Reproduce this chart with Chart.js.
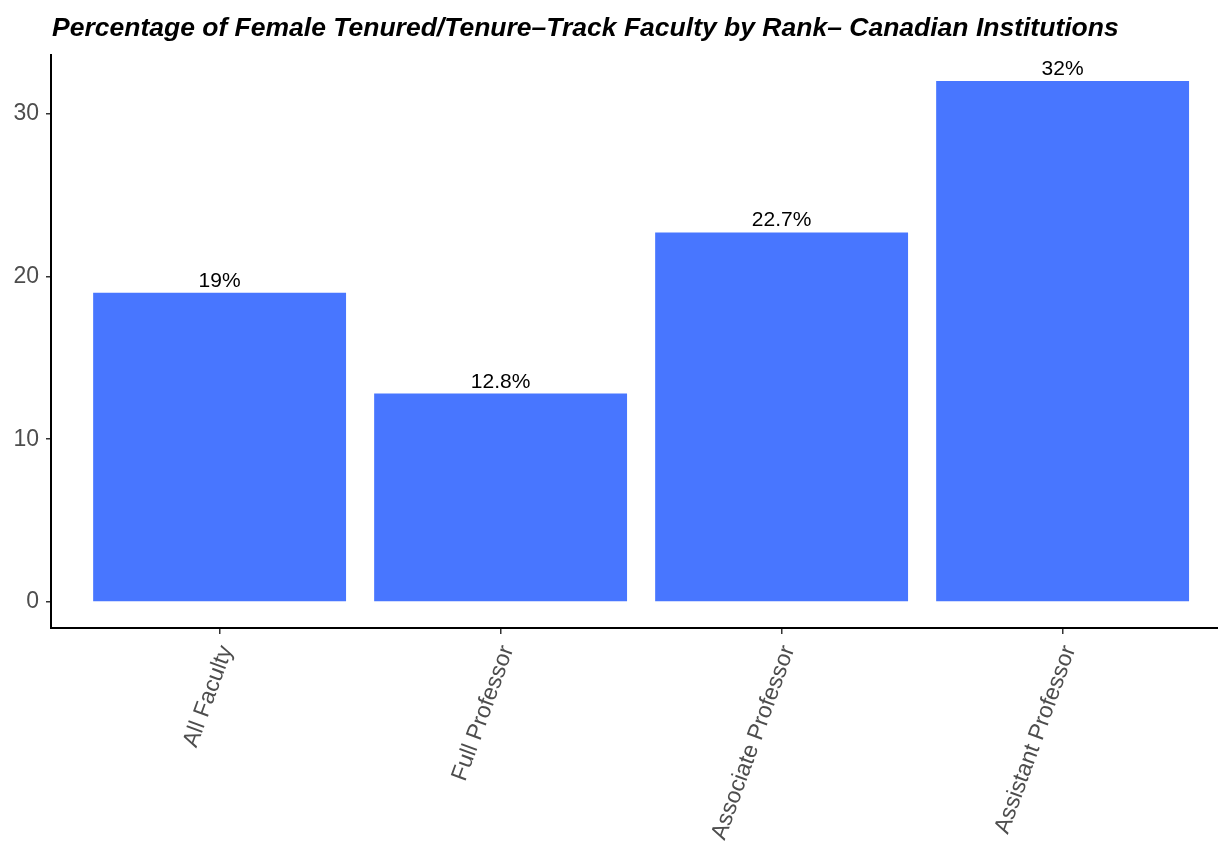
<!DOCTYPE html>
<html>
<head>
<meta charset="utf-8">
<script src="https://cdn.jsdelivr.net/npm/chart.js@4"></script>
<style>
  html, body { margin: 0; padding: 0; background: #fff; overflow: hidden; }
  #wrap { width: 1218px; height: 848px; position: relative; }
</style>
</head>
<body>
<div id="wrap"><canvas id="chart"></canvas></div>
<script>
// Faculty ranks and the share of tenured/tenure-track positions held by women (%)
const ranks = ["All Faculty", "Full Professor", "Associate Professor", "Assistant Professor"];
const femaleShare = [19, 12.8, 22.7, 32];
const yTicks = [0, 10, 20, 30];
const titleText = "Percentage of Female Tenured/Tenure\u2013Track Faculty by Rank\u2013 Canadian Institutions";

const FONT = "'Liberation Sans', Arial, Helvetica, sans-serif";

// Title drawn at the left edge, above the panel
const titlePlugin = {
  id: 'leftTitle',
  afterDraw(chart) {
    const ctx = chart.ctx;
    ctx.save();
    ctx.font = "italic bold 26.5px " + FONT;
    ctx.fillStyle = '#000';
    ctx.textAlign = 'left';
    ctx.textBaseline = 'alphabetic';
    ctx.fillText(titleText, 52, 36);
    ctx.restore();
  }
};

// Percent labels sitting just above each bar
const valueLabels = {
  id: 'valueLabels',
  afterDatasetsDraw(chart) {
    const ctx = chart.ctx;
    const meta = chart.getDatasetMeta(0);
    ctx.save();
    ctx.font = "21px " + FONT;
    ctx.fillStyle = '#000';
    ctx.textAlign = 'center';
    ctx.textBaseline = 'alphabetic';
    meta.data.forEach((bar, i) => {
      ctx.fillText(femaleShare[i] + '%', bar.x, bar.y - 6);
    });
    ctx.restore();
  }
};

new Chart(document.getElementById('chart'), {
  type: 'bar',
  data: {
    datasets: [{
      data: ranks.map((r, i) => ({ x: i + 1, y: femaleShare[i] })),
      backgroundColor: '#4876FF',
      borderWidth: 0,
      barPercentage: 0.9,
      categoryPercentage: 1.0
    }]
  },
  options: {
    responsive: true,
    maintainAspectRatio: false,
    animation: false,
    layout: { padding: { top: 55, left: 0, right: 0, bottom: 0 } },
    plugins: {
      legend: { display: false },
      tooltip: { enabled: false },
      title: { display: false }
    },
    scales: {
      x: {
        type: 'linear',
        offset: false,
        min: 0.4,
        max: 4.553,
        afterBuildTicks: axis => { axis.ticks = ranks.map((r, i) => ({ value: i + 1 })); },
        afterFit: axis => { axis.height = 220; },
        grid: { offset: false, drawOnChartArea: false, drawTicks: true, tickLength: 6, color: '#333', lineWidth: 1.5 },
        border: { display: true, color: '#000', width: 2 },
        ticks: {
          autoSkip: false,
          minRotation: 70,
          maxRotation: 70,
          padding: 8,
          labelOffset: 7,
          color: '#4D4D4D',
          font: { family: FONT, size: 23 },
          callback: v => ranks[v - 1]
        }
      },
      y: {
        min: -1.6,
        max: 33.6,
        afterBuildTicks: axis => { axis.ticks = yTicks.map(v => ({ value: v })); },
        afterFit: axis => { axis.width = 51; },
        grid: { drawOnChartArea: false, drawTicks: true, tickLength: 5, color: '#333', lineWidth: 1.5 },
        border: { display: true, color: '#000', width: 2 },
        ticks: {
          padding: 7,
          color: '#4D4D4D',
          font: { family: FONT, size: 23 }
        }
      }
    }
  },
  plugins: [titlePlugin, valueLabels]
});
</script>
</body>
</html>
